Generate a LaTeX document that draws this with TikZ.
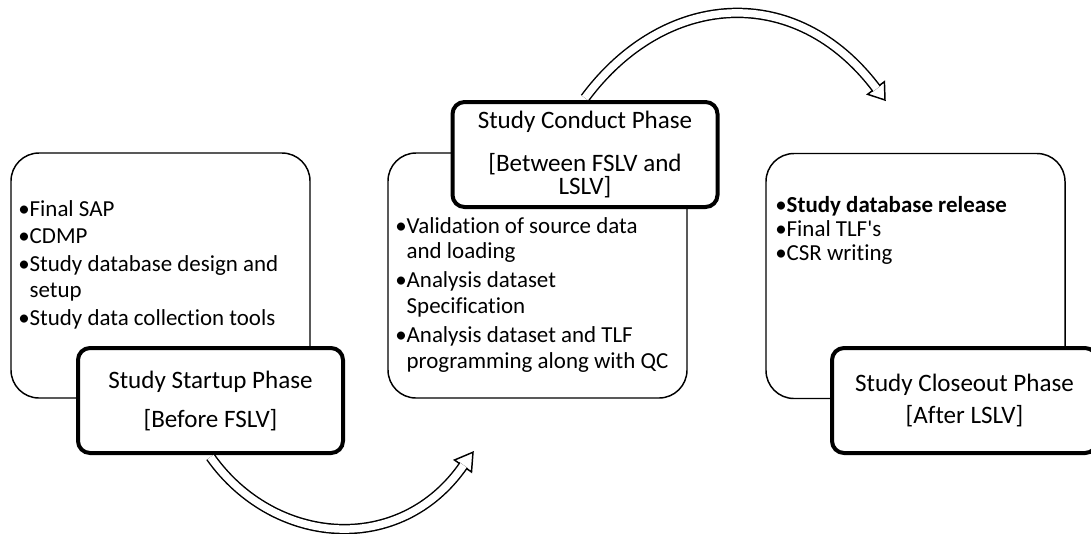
\documentclass[tikz,border=0pt]{standalone}
\usepackage{fontspec}
\setmainfont{Carlito}[Ligatures=CommonOff]

\tikzset{
  phasebox/.style={draw, line width=1.1pt, rounded corners=21pt, minimum width=224.25pt, minimum height=183.75pt, inner sep=0pt},
  labelbox/.style={draw, fill=white, line width=3pt, rounded corners=9pt, minimum width=198.75pt, minimum height=78.75pt, inner sep=0pt, align=center, font=\fontsize{18.8pt}{17.25pt}\selectfont},
  itemtext/.style={anchor=base west, inner sep=0pt, font=\fontsize{17.2pt}{18pt}\selectfont},
  shaft/.style={double, double distance=5.6pt, line width=1.1pt},
  arrowhead/.style={fill=white, line width=1.1pt, line join=miter}
}

\begin{document}
\begin{tikzpicture}[x=0.75pt, y=-0.75pt]
% Canvas
\useasboundingbox (0,0) rectangle (1091,533);
\clip (0,0) rectangle (1091,533);

% Parameters
\def\hang{\phantom{\textbullet}}

% Phase boxes
\node[phasebox] (boxA) at (160.5,275.5) {};
\node[phasebox] (boxB) at (537.5,275.5) {};
\node[phasebox] (boxC) at (915.5,276) {};

% Activities
\foreach \txt/\ypos [count=\i] in {{\textbullet Final SAP}/216, {\textbullet CDMP}/243, {\textbullet Study database design and}/271, {\hang setup}/297, {\textbullet Study data collection tools}/325}
  \node[itemtext] (itemA\i) at (18,\ypos) {\txt};
\foreach \txt/\ypos [count=\i] in {{\textbullet Validation of source data}/233, {\hang and loading}/258, {\textbullet Analysis dataset}/287, {\hang Specification}/313, {\textbullet Analysis dataset and TLF}/342, {\hang programming along with QC}/368}
  \node[itemtext] (itemB\i) at (395,\ypos) {\txt};
\foreach \txt/\ypos [count=\i] in {{\textbullet\textbf{Study database release}}/212, {\textbullet Final TLF\textquotesingle s}/236, {\textbullet CSR writing}/260}
  \node[itemtext] (itemC\i) at (775,\ypos) {\txt};

% Phase labels
\node[labelbox] (labA) at (210.5,400.5) {Study Startup Phase\\[12pt]{[}Before FSLV]};
\node[labelbox] (labB) at (585,154.5) {Study Conduct Phase\\[15pt]{[}Between FSLV and\\LSLV]};
\node[labelbox] (labC) at (964.5,400.5) {Study Closeout Phase\\[6.75pt]{[}After LSLV]};

% Transitions
\coordinate (endA) at (463.6,465.2);
\coordinate (tipA) at (473,452.2);
\draw[arrowhead] (454.5,460) -- (tipA) -- (471.5,472) -- cycle;
\draw[shaft] ([yshift=-1.5pt]labA.south) .. controls (273.5,546) and (400,557) .. (endA);

\coordinate (endB) at (876.6,88.8);
\coordinate (tipB) at (885,100);
\draw[arrowhead] (867.6,94.3) -- (tipB) -- (884.4,81.7) -- cycle;
\draw[shaft] ([yshift=1.5pt]labB.north) .. controls (664,-8.5) and (795.6,-19) .. (endB);

\end{tikzpicture}
\end{document}
